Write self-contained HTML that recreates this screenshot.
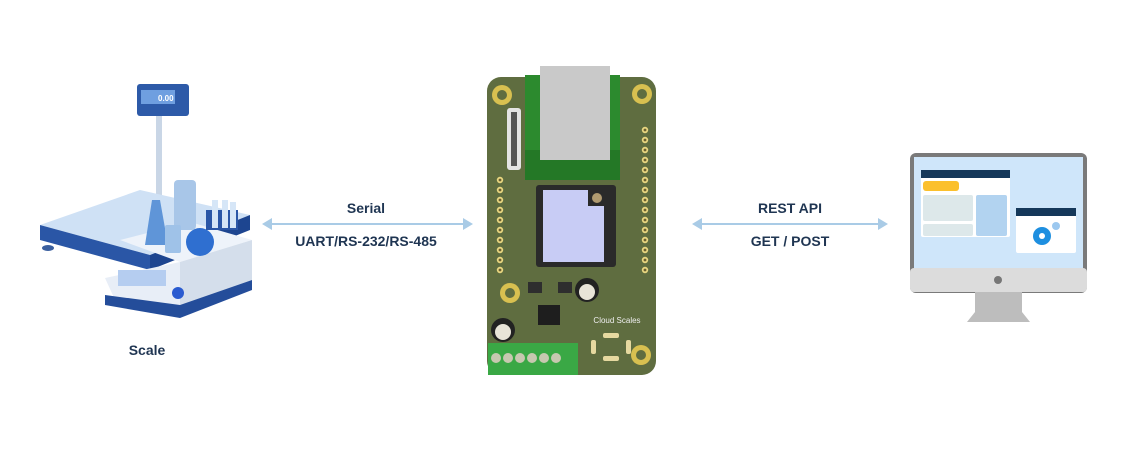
<!DOCTYPE html>
<html><head><style>
html,body{margin:0;padding:0;background:#fff;}
svg{display:block;}
text{font-family:"Liberation Sans",sans-serif;font-weight:600;fill:#1f3552;}
</style></head><body>
<svg width="1140" height="450" viewBox="0 0 1140 450" xmlns="http://www.w3.org/2000/svg">
<defs>
<pattern id="pinsA" x="495" y="125" width="10" height="10" patternUnits="userSpaceOnUse">
<rect width="10" height="10" fill="#5f6d40"/><circle cx="5" cy="5" r="3.2" fill="#e8d680"/><circle cx="5" cy="5" r="1.4" fill="#6a5f30"/>
</pattern>
<pattern id="pinsB" x="640" y="125" width="10" height="10" patternUnits="userSpaceOnUse">
<rect width="10" height="10" fill="#5f6d40"/><circle cx="5" cy="5" r="3.2" fill="#e8d680"/><circle cx="5" cy="5" r="1.4" fill="#6a5f30"/>
</pattern>
</defs>
<!-- connectors -->
<g stroke="#a9cbe6" stroke-width="2" fill="#a9cbe6">
<line x1="268" y1="224" x2="466" y2="224"/>
<polygon points="262,224 272,218 272,230" stroke="none"/>
<polygon points="473,224 463,218 463,230" stroke="none"/>
<line x1="698" y1="224" x2="881" y2="224"/>
<polygon points="692,224 702,218 702,230" stroke="none"/>
<polygon points="888,224 878,218 878,230" stroke="none"/>
</g>
<text x="366" y="213" font-size="14" text-anchor="middle">Serial</text>
<text x="366" y="246" font-size="14" text-anchor="middle">UART/RS-232/RS-485</text>
<text x="790" y="213" font-size="14" text-anchor="middle">REST API</text>
<text x="790" y="246" font-size="14" text-anchor="middle">GET / POST</text>
<text x="147" y="355" font-size="14" text-anchor="middle">Scale</text>

<!-- scale -->
<g>
<rect x="156" y="110" width="6" height="100" fill="#c9d6e6"/>
<rect x="137" y="84" width="52" height="32" rx="3" fill="#2d5aa8"/>
<rect x="141" y="90" width="34" height="14" fill="#6f9fe0"/>
<text x="158" y="101" font-size="8" style="fill:#fff">0.00</text>
<polygon points="40,225 140,190 250,215 150,255" fill="#cfe1f5"/>
<polygon points="40,225 150,255 150,270 40,240" fill="#2a56a6"/>
<polygon points="150,255 250,215 250,230 150,270" fill="#1d4590"/>
<ellipse cx="48" cy="248" rx="6" ry="3" fill="#3a5f9f"/>
<polygon points="120,240 190,222 252,240 180,262" fill="#eef3fa"/>
<polygon points="105,278 180,262 180,305 115,300" fill="#e8eef7"/>
<polygon points="180,262 252,240 252,280 180,305" fill="#d4deeb"/>
<polygon points="105,295 180,305 252,280 252,290 180,318 105,305" fill="#244d9a"/>
<rect x="118" y="270" width="48" height="16" fill="#b5cdf0"/>
<circle cx="178" cy="293" r="6" fill="#2a5bd0"/>
<rect x="174" y="180" width="22" height="50" rx="4" fill="#a8c6e8"/>
<polygon points="145,245 152,200 160,200 168,245" fill="#5f95d8"/>
<circle cx="200" cy="242" r="14" fill="#2f6fd0"/>
<rect x="165" y="225" width="16" height="28" rx="2" fill="#9fc2e8"/>
<rect x="206" y="210" width="32" height="20" fill="#2a56a6"/>
<rect x="212" y="200" width="6" height="28" fill="#d6e6f7"/><rect x="222" y="200" width="6" height="28" fill="#d6e6f7"/><rect x="230" y="202" width="6" height="26" fill="#d6e6f7"/>
</g>

<!-- board -->
<g>
<rect x="487" y="77" width="169" height="298" rx="14" fill="#5f6d40"/>
<rect x="525" y="75" width="95" height="105" fill="#2c8a2e"/>
<polygon points="525,150 620,150 620,180 525,180" fill="#247826"/>
<rect x="540" y="66" width="70" height="94" fill="#c9c9c9"/>
<rect x="507" y="108" width="14" height="62" rx="3" fill="#e4e4e4"/>
<rect x="511" y="112" width="6" height="54" fill="#555"/>
<g fill="#d8c050">
<circle cx="502" cy="95" r="10"/><circle cx="642" cy="94" r="10"/><circle cx="510" cy="293" r="10"/><circle cx="641" cy="355" r="10"/>
</g>
<g fill="#5f6d40"><circle cx="502" cy="95" r="5"/><circle cx="642" cy="94" r="5"/><circle cx="510" cy="293" r="5"/><circle cx="641" cy="355" r="5"/></g>
<rect x="495" y="175" width="10" height="100" fill="url(#pinsA)"/>
<rect x="640" y="125" width="10" height="150" fill="url(#pinsB)"/>
<rect x="536" y="185" width="80" height="82" rx="3" fill="#2a2a2a"/>
<polygon points="543,190 588,190 588,206 604,206 604,262 543,262" fill="#c8ccf5"/>
<circle cx="597" cy="198" r="5" fill="#b09a70"/>
<rect x="538" y="305" width="22" height="20" fill="#1e1e1e"/>
<rect x="528" y="282" width="14" height="11" fill="#2e2e2e"/>
<rect x="558" y="282" width="14" height="11" fill="#2e2e2e"/>
<circle cx="587" cy="290" r="12" fill="#222"/><circle cx="587" cy="292" r="8" fill="#e8e4d8"/>
<circle cx="503" cy="330" r="12" fill="#222"/><circle cx="503" cy="332" r="8" fill="#e8e4d8"/>
<text x="617" y="323" font-size="8" style="fill:#eee;font-weight:400" text-anchor="middle">Cloud Scales</text>
<rect x="488" y="343" width="90" height="32" fill="#3aa845"/>
<g fill="#c8c8b0"><circle cx="496" cy="358" r="5"/><circle cx="508" cy="358" r="5"/><circle cx="520" cy="358" r="5"/><circle cx="532" cy="358" r="5"/><circle cx="544" cy="358" r="5"/><circle cx="556" cy="358" r="5"/></g>
<g fill="#e6d9a0"><rect x="603" y="333" width="16" height="5" rx="2"/><rect x="603" y="356" width="16" height="5" rx="2"/><rect x="591" y="340" width="5" height="14" rx="2"/><rect x="626" y="340" width="5" height="14" rx="2"/></g>
</g>

<!-- monitor -->
<g>
<rect x="910" y="153" width="177" height="140" rx="6" fill="#7a7a7a"/>
<rect x="914" y="157" width="169" height="112" fill="#cfe6fa"/>
<rect x="910" y="268" width="177" height="24" rx="4" fill="#dcdcdc"/>
<circle cx="998" cy="280" r="4" fill="#777"/>
<polygon points="975,292 1022,292 1022,312 1030,322 967,322 975,312" fill="#bdbdbd"/>
<rect x="921" y="170" width="89" height="67" rx="2" fill="#fff"/>
<rect x="921" y="170" width="89" height="8" fill="#15385a"/>
<rect x="923" y="181" width="36" height="10" rx="3" fill="#fbc02d"/>
<rect x="923" y="195" width="50" height="26" rx="2" fill="#dde8ea"/>
<rect x="923" y="224" width="50" height="12" rx="2" fill="#dde8ea"/>
<rect x="976" y="195" width="31" height="41" rx="2" fill="#b2d3f0"/>
<rect x="1016" y="208" width="60" height="45" rx="2" fill="#fff"/>
<rect x="1016" y="208" width="60" height="8" fill="#15385a"/>
<circle cx="1042" cy="236" r="9" fill="#1e8fe0"/><circle cx="1042" cy="236" r="3" fill="#fff"/>
<circle cx="1056" cy="226" r="4" fill="#9cc8ef"/>
</g>
</svg>
</body></html>
